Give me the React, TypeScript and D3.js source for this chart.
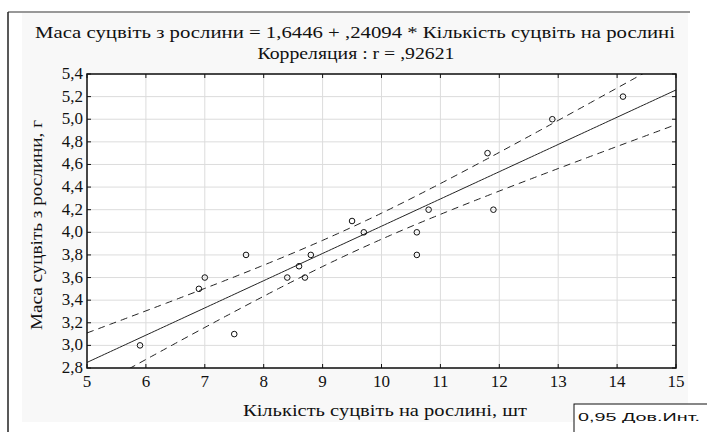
import React from "react";
import * as d3 from "d3";

const xValues = [5.9, 6.9, 7.0, 7.5, 7.7, 8.4, 8.6, 8.7, 8.8, 9.5, 9.7, 10.6, 10.6, 10.8, 11.8, 11.9, 12.9, 14.1];
const yValues = [3.0, 3.5, 3.6, 3.1, 3.8, 3.6, 3.7, 3.6, 3.8, 4.1, 4.0, 4.0, 3.8, 4.2, 4.7, 4.2, 5.0, 5.2];
const xTicks = [5, 6, 7, 8, 9, 10, 11, 12, 13, 14, 15];
const yTicks = [2.8, 3.0, 3.2, 3.4, 3.6, 3.8, 4.0, 4.2, 4.4, 4.6, 4.8, 5.0, 5.2, 5.4];
const intercept = 1.6446;
const slope = 0.24094;
const tCrit = 2.1199; // t(0.975, df=16)

const titleLine1 = "Маса суцвіть з рослини = 1,6446 + ,24094 * Кількість суцвіть на рослині";
const titleLine2 = "Корреляция : r = ,92621";
const xTitle = "Кількість суцвіть на рослині, шт";
const yTitle = "Маса суцвіть з рослини, г";
const legendText = "0,95 Дов.Инт.";

const fmt = (v: number, dec: number) => v.toFixed(dec).replace(".", ",");

export default function App() {
  const L = 87, R = 676, T = 74, B = 368;
  const x = d3.scaleLinear().domain([5, 15]).range([L, R]);
  const y = d3.scaleLinear().domain([2.8, 5.4]).range([B, T]);

  const n = xValues.length;
  const mx = d3.mean(xValues) as number;
  const sxx = d3.sum(xValues, (v) => (v - mx) ** 2);
  const sse = d3.sum(xValues, (v, i) => (yValues[i] - (intercept + slope * v)) ** 2);
  const s = Math.sqrt(sse / (n - 2));
  const half = (xv: number) => tCrit * s * Math.sqrt(1 / n + (xv - mx) ** 2 / sxx);

  const grid = d3.range(5, 15.0001, 0.05);
  const upper = d3.line<number>().x((v) => x(v)).y((v) => y(intercept + slope * v + half(v)));
  const lower = d3.line<number>().x((v) => x(v)).y((v) => y(intercept + slope * v - half(v)));
  const fit = d3.line<number>().x((v) => x(v)).y((v) => y(intercept + slope * v));

  const serif = "'Liberation Serif', 'Times New Roman', serif";
  const sans = "'Liberation Sans', Arial, sans-serif";

  return (
    <svg width={707} height={432} style={{ position: "absolute", left: 0, top: 0 }}>
      <rect x={0} y={0} width={707} height={432} fill="#fff" />
      <rect x={22} y={13} width={666} height={409} fill="#f8f8f8" />
      <line x1={8} y1={12} x2={690} y2={12} stroke="#333" strokeWidth={1.2} />
      <line x1={8} y1={12} x2={8} y2={432} stroke="#222" strokeWidth={1.5} />
      <text x={355} y={38} textAnchor="middle" fontFamily={serif} fontSize={16.5} fill="#111" textLength={640} lengthAdjust="spacingAndGlyphs">{titleLine1}</text>
      <text x={356} y={59} textAnchor="middle" fontFamily={serif} fontSize={16.5} fill="#111" textLength={197} lengthAdjust="spacingAndGlyphs">{titleLine2}</text>
      <defs>
        <clipPath id="plotclip">
          <rect x={L} y={T} width={R - L} height={B - T} />
        </clipPath>
      </defs>
      <rect x={L} y={T} width={R - L} height={B - T} fill="#fff" />
      {xTicks.map((t) => (
        <line key={"gx" + t} x1={x(t)} x2={x(t)} y1={T} y2={B} stroke="#dcdcdc" strokeWidth={1} />
      ))}
      {yTicks.map((t) => (
        <line key={"gy" + t} x1={L} x2={R} y1={y(t)} y2={y(t)} stroke="#dcdcdc" strokeWidth={1} />
      ))}
      <g clipPath="url(#plotclip)">
        <path d={fit(grid) || ""} fill="none" stroke="#222" strokeWidth={1} />
        <path d={upper(grid) || ""} fill="none" stroke="#222" strokeWidth={1} strokeDasharray="7,5" />
        <path d={lower(grid) || ""} fill="none" stroke="#222" strokeWidth={1} strokeDasharray="7,5" />
      </g>
      {xValues.map((v, i) => (
        <circle key={"p" + i} cx={x(v)} cy={y(yValues[i])} r={2.8} fill="none" stroke="#111" strokeWidth={1} />
      ))}
      {xTicks.map((t) => (
        <g key={"tx" + t}>
          <line x1={x(t)} x2={x(t)} y1={B} y2={B - 4} stroke="#111" />
          <line x1={x(t)} x2={x(t)} y1={T} y2={T + 4} stroke="#111" />
          <text x={x(t)} y={387} textAnchor="middle" fontFamily={serif} fontSize={17} fill="#111">{String(t)}</text>
        </g>
      ))}
      {yTicks.map((t) => (
        <g key={"ty" + t}>
          <line x1={L} x2={L + 4} y1={y(t)} y2={y(t)} stroke="#111" />
          <line x1={R} x2={R - 4} y1={y(t)} y2={y(t)} stroke="#111" />
          <text x={83} y={y(t) + 5} textAnchor="end" fontFamily={serif} fontSize={17} fill="#111">{fmt(t, 1)}</text>
        </g>
      ))}
      <rect x={L} y={T} width={R - L} height={B - T} fill="none" stroke="#111" strokeWidth={1.5} />
      <text x={385} y={416} textAnchor="middle" fontFamily={serif} fontSize={16.5} fill="#111" textLength={284} lengthAdjust="spacingAndGlyphs">{xTitle}</text>
      <text transform={`translate(42,${(T + B) / 2 + 4}) rotate(-90)`} textAnchor="middle" fontFamily={serif} fontSize={16} fill="#111" textLength={210} lengthAdjust="spacingAndGlyphs">{yTitle}</text>
      <rect x={574} y={404} width={140} height={40} fill="#fff" stroke="#111" strokeWidth={1} />
      <text x={578} y={421} fontFamily={sans} fontSize={11} fill="#111" textLength={122} lengthAdjust="spacingAndGlyphs">{legendText}</text>
    </svg>
  );
}
